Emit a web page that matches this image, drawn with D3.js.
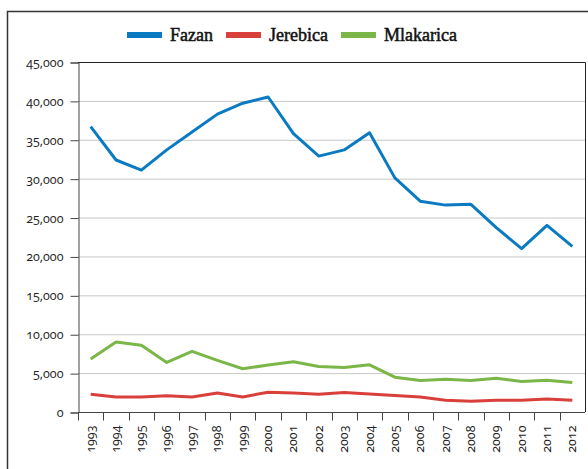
<!DOCTYPE html>
<html>
<head>
<meta charset="utf-8">
<script src="https://cdn.jsdelivr.net/npm/d3@7"></script>
<style>
  body { margin: 0; background: #fff; }
  svg { display: block; }
  .tick-label { font-family: "Open Sans", sans-serif; font-size: 12.5px; fill: #222; font-variant-numeric: oldstyle-nums; font-feature-settings: "onum"; }
  .legend-label { font-family: "Liberation Serif", serif; font-size: 18px; font-weight: normal; fill: #111; stroke: #111; stroke-width: 0.5px; }
</style>
</head>
<body>
<svg width="588" height="469"></svg>
<script>
const years = ['1993','1994','1995','1996','1997','1998','1999','2000','2001','2002',
               '2003','2004','2005','2006','2007','2008','2009','2010','2011','2012']
const fazan = [36700, 32400, 31100, 33700, 36000, 38300, 39700, 40500, 35800, 32900,
               33700, 35900, 30100, 27100, 26600, 26700, 23700, 21000, 24000, 21300]
const jerebica = [2290, 1940, 1940, 2100, 1940, 2450, 1940, 2540, 2450, 2290,
                  2500, 2330, 2120, 1940, 1510, 1380, 1500, 1510, 1680, 1510]
const mlakarica = [6800, 9000, 8570, 6370, 7800, 6630, 5560, 6030, 6460, 5850,
                   5720, 6070, 4480, 4040, 4220, 4040, 4350, 3920, 4080, 3790]
const seriesNames = ['Fazan', 'Jerebica', 'Mlakarica']
const seriesColors = ['#0a7bc2', '#d9403b', '#7ab648']
const yTicks = [0, 5000, 10000, 15000, 20000, 25000, 30000, 35000, 40000, 45000]

const svg = d3.select('svg')
const pLeft = 78, pRight = 585, pTop = 62, pBottom = 412

// outer frame
svg.append('rect')
  .attr('x', 7.5).attr('y', 11.5)
  .attr('width', 600).attr('height', 500)
  .attr('fill', 'none').attr('stroke', '#333').attr('stroke-width', 1.5)

const x = d3.scaleBand().domain(years).range([pLeft, pRight]).padding(0)
const y = d3.scaleLinear().domain([0, 45000]).range([pBottom, pTop])

// grid
svg.append('g').selectAll('line')
  .data(yTicks.slice(1, -1))
  .join('line')
  .attr('x1', pLeft).attr('x2', pRight)
  .attr('y1', d => y(d) + 0.5).attr('y2', d => y(d) + 0.5)
  .attr('stroke', '#c8c8c8').attr('stroke-width', 1)

// plot frame (top, right)
svg.append('path')
  .attr('d', `M${pLeft},${pTop + 0.5}H${pRight + 0.5}V${pBottom}`)
  .attr('fill', 'none').attr('stroke', '#222').attr('stroke-width', 1)

// y axis
const yAxis = svg.append('g')
  .attr('transform', `translate(${pLeft + 0.5},0.5)`)
  .call(d3.axisLeft(y).tickValues(yTicks).tickSize(8).tickPadding(7)
    .tickFormat(d3.format(',')))
yAxis.select('.domain').attr('stroke', '#444')
yAxis.selectAll('.tick line').attr('stroke', '#444')
yAxis.selectAll('text').attr('class', 'tick-label')
yAxis.attr('font-family', null).attr('font-size', null)

// x axis
const xAxis = svg.append('g').attr('transform', `translate(0,${pBottom + 0.5})`)
xAxis.append('line')
  .attr('x1', pLeft).attr('x2', pRight)
  .attr('stroke', '#444')
xAxis.selectAll('.xt')
  .data(years)
  .join('line')
  .attr('x1', d => Math.round(x(d)) + 0.5).attr('x2', d => Math.round(x(d)) + 0.5)
  .attr('y1', 0).attr('y2', 8)
  .attr('stroke', '#444')
xAxis.selectAll('.xl')
  .data(years)
  .join('text')
  .attr('class', 'tick-label')
  .attr('transform', d => `translate(${x(d) + x.bandwidth() / 2 + 4},13) rotate(-90)`)
  .attr('text-anchor', 'end')
  .text(d => d)

// lines
const line = d3.line()
  .x((d, i) => x(years[i]) + x.bandwidth() / 2)
  .y(d => y(d))

;[fazan, jerebica, mlakarica].forEach((s, i) => {
  svg.append('path')
    .datum(s)
    .attr('d', line)
    .attr('fill', 'none')
    .attr('stroke', seriesColors[i])
    .attr('stroke-width', 3)
    .attr('stroke-linejoin', 'round')
})

// legend
const legend = svg.append('g').attr('transform', 'translate(127,35)')
let lx = 0
seriesNames.forEach((name, i) => {
  legend.append('rect')
    .attr('x', lx).attr('y', -3)
    .attr('width', 35).attr('height', 6)
    .attr('fill', seriesColors[i])
  const t = legend.append('text')
    .attr('class', 'legend-label')
    .attr('x', lx + 43).attr('y', 6)
    .text(name)
  lx += 43 + t.node().getComputedTextLength() + 13
})
</script>
</body>
</html>
